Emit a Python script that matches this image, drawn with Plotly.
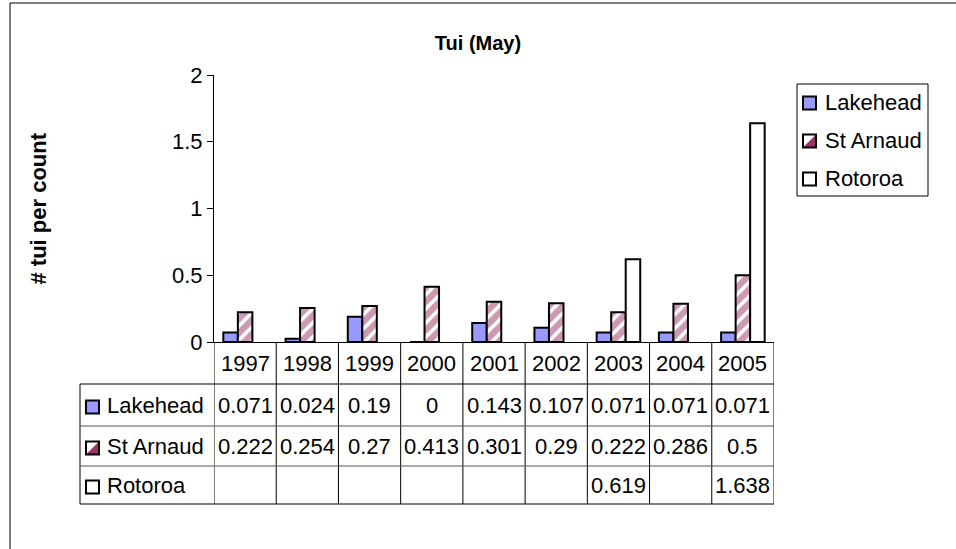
import plotly.graph_objects as go

years = ["1997", "1998", "1999", "2000", "2001", "2002", "2003", "2004", "2005"]
lakehead = [0.071, 0.024, 0.19, 0, 0.143, 0.107, 0.071, 0.071, 0.071]
st_arnaud = [0.222, 0.254, 0.27, 0.413, 0.301, 0.29, 0.222, 0.286, 0.5]
rotoroa = [None, None, None, None, None, None, 0.619, None, 1.638]
series_names = ["Lakehead", "St Arnaud", "Rotoroa"]
y_ticks = [0, 0.5, 1, 1.5, 2]

FONT = "Arial, Liberation Sans, sans-serif"
BLUE = "#9999FF"
PLUM = "#993366"

# plot area in pixels (956 x 549 page)
W, H = 956, 549
L, R, T, B = 214, 774, 75, 342


def px(x):  # page pixel -> paper x
    return (x - L) / (R - L)


def py(y):  # page pixel -> paper y
    return (B - y) / (B - T)


fig = go.Figure()

fig.add_trace(go.Bar(x=years, y=lakehead, name=series_names[0],
                     marker=dict(color=BLUE, line=dict(color="black", width=2))))
fig.add_trace(go.Bar(x=years, y=st_arnaud, name=series_names[1],
                     marker=dict(color="white", line=dict(color="black", width=2),
                                 pattern=dict(shape="/", fgcolor=PLUM, bgcolor="white",
                                              size=10, solidity=0.65))))
fig.add_trace(go.Bar(x=years, y=rotoroa, name=series_names[2],
                     marker=dict(color="white", line=dict(color="black", width=2))))

shapes = []
annotations = []
line = dict(color="black", width=1)
grey = dict(color="#555555", width=1)

# data table under the axis
row_edges = [384, 426, 466, 504]
for i in range(len(years) + 1):
    shapes.append(dict(type="line", xref="x", yref="paper", x0=i - 0.5, x1=i - 0.5,
                       y0=py(B), y1=py(row_edges[-1]), line=line))
shapes.append(dict(type="line", xref="paper", yref="paper", x0=px(80), x1=px(80),
                   y0=py(row_edges[0]), y1=py(row_edges[-1]), line=line))
for e in row_edges:
    shapes.append(dict(type="line", xref="paper", yref="paper", x0=px(80), x1=1,
                       y0=py(e), y1=py(e), line=grey if e in (426, 466) else line))

cell_font = dict(family=FONT, size=22, color="black")
for i, yr in enumerate(years):
    annotations.append(dict(x=i, xref="x", y=py((B + row_edges[0]) / 2), yref="paper",
                            text=yr, showarrow=False, font=cell_font,
                            xanchor="center", yanchor="middle"))

rows = [lakehead, st_arnaud, rotoroa]
for r, vals in enumerate(rows):
    cy = (row_edges[r] + row_edges[r + 1]) / 2
    for i, v in enumerate(vals):
        if v is None:
            continue
        annotations.append(dict(x=i, xref="x", y=py(cy), yref="paper",
                                text=f"{v:g}", showarrow=False, font=cell_font,
                                xanchor="center", yanchor="middle"))


def glyph(x0, cy, kind):
    s = 13
    y0, y1 = py(cy + s / 2), py(cy - s / 2)
    a, b = px(x0), px(x0 + s)
    out = []
    if kind == 0:
        out.append(dict(type="rect", xref="paper", yref="paper", x0=a, x1=b, y0=y0, y1=y1,
                        fillcolor=BLUE, line=dict(color="black", width=2)))
    elif kind == 1:
        out.append(dict(type="rect", xref="paper", yref="paper", x0=a, x1=b, y0=y0, y1=y1,
                        fillcolor="white", line=dict(width=0)))
        out.append(dict(type="path", xref="paper", yref="paper",
                        path=f"M {a},{y0} L {b},{y0} L {b},{y1} Z",
                        fillcolor=PLUM, line=dict(width=0)))
        out.append(dict(type="rect", xref="paper", yref="paper", x0=a, x1=b, y0=y0, y1=y1,
                        line=dict(color="black", width=2)))
    else:
        out.append(dict(type="rect", xref="paper", yref="paper", x0=a, x1=b, y0=y0, y1=y1,
                        fillcolor="white", line=dict(color="black", width=2)))
    return out


# series labels in the table
for r, name in enumerate(series_names):
    cy = (row_edges[r] + row_edges[r + 1]) / 2
    shapes += glyph(86, cy + 2, r)
    annotations.append(dict(x=px(105), xref="paper", y=py(cy), yref="paper", text=name,
                            xanchor="left", yanchor="middle", showarrow=False, font=cell_font))

# legend box on the right
leg_top, leg_bot = 84, 196
shapes.append(dict(type="rect", xref="paper", yref="paper", x0=px(797), x1=px(928),
                   y0=py(leg_top), y1=py(leg_bot), line=line, fillcolor="white", layer="below"))
for r, name in enumerate(series_names):
    cy = 102 + r * 38
    shapes += glyph(803, cy + 1, r)
    annotations.append(dict(x=px(823), xref="paper", y=py(cy), yref="paper", text=name,
                            xanchor="left", yanchor="middle", showarrow=False, font=cell_font))

# outer chart border (only left and top edges fall inside the page)
shapes.append(dict(type="rect", xref="paper", yref="paper", x0=px(10), x1=px(1100),
                   y0=py(3), y1=py(700), line=line, layer="below"))

# y axis title
annotations.append(dict(x=px(38), xref="paper", y=py((T + B) / 2), yref="paper",
                        text="<b># tui per count</b>", textangle=-90, showarrow=False,
                        xanchor="center", yanchor="middle",
                        font=dict(family=FONT, size=22, color="black")))

fig.update_layout(
    width=W, height=H,
    margin=dict(l=L, r=W - R, t=T, b=H - B),
    paper_bgcolor="white", plot_bgcolor="white",
    font=dict(family=FONT, size=22, color="black"),
    title=dict(text="<b>Tui (May)</b>", x=0.5, xref="container", xanchor="center",
               y=1 - 43 / H, yanchor="middle", font=dict(family=FONT, size=20)),
    barmode="group", bargap=0.3, bargroupgap=0,
    showlegend=False,
    shapes=shapes, annotations=annotations,
)
fig.update_xaxes(type="category", range=[-0.5, len(years) - 0.5], showticklabels=False,
                 showline=True, linecolor="black", linewidth=1, ticks="", showgrid=False,
                 zeroline=False, fixedrange=True)
fig.update_yaxes(range=[0, 2], tickvals=y_ticks, ticktext=[f"{t:g}" for t in y_ticks],
                 showline=True, linecolor="black", linewidth=1, ticks="outside", ticklen=6,
                 tickcolor="black", showgrid=False, zeroline=False, fixedrange=True,
                 tickfont=dict(family=FONT, size=22))

# page body has an 8px default margin; drop it so the chart sits at the page origin
fig.write_html("out.html", config={"displayModeBar": False},
               post_script="document.body.style.margin='0';")
